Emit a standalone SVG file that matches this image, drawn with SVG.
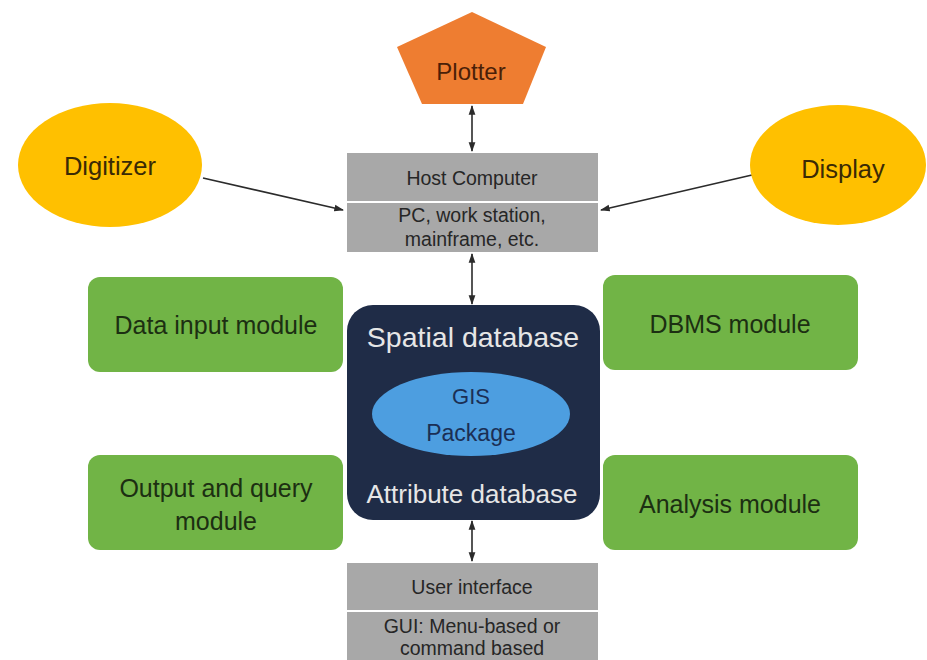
<svg xmlns="http://www.w3.org/2000/svg" width="927" height="660" viewBox="0 0 927 660">
  <defs>
    <marker id="arrow-end" viewBox="0 0 10 10" refX="9" refY="5" markerWidth="6" markerHeight="6" orient="auto">
      <path d="M0,1.5 L10,5 L0,8.5 z" fill="#2b2b2b"/>
    </marker>
    <marker id="arrow-start" viewBox="0 0 10 10" refX="1" refY="5" markerWidth="6" markerHeight="6" orient="auto">
      <path d="M10,1.5 L0,5 L10,8.5 z" fill="#2b2b2b"/>
    </marker>
  </defs>
  <style>
    text { font-family: "Liberation Sans", Arial, sans-serif; text-anchor: middle; }
    .grey { fill: #a8a8a8; }
    .grey-text { fill: #262626; font-size: 19.5px; }
    .module { fill: #71b446; }
    .module-text { fill: #1c2f12; font-size: 25px; }
    .oval { fill: #ffc000; }
    .oval-text { fill: #3a2a05; font-size: 25.5px; }
    .conn { stroke: #2b2b2b; stroke-width: 1.6; fill: none; }
  </style>

  <rect width="927" height="660" fill="#ffffff"/>

  <!-- connectors -->
  <g id="connectors">
    <line class="conn" x1="472" y1="106" x2="472" y2="151" marker-start="url(#arrow-start)" marker-end="url(#arrow-end)"/>
    <line class="conn" x1="472" y1="254" x2="472" y2="304" marker-start="url(#arrow-start)" marker-end="url(#arrow-end)"/>
    <line class="conn" x1="472" y1="521" x2="472" y2="561" marker-start="url(#arrow-start)" marker-end="url(#arrow-end)"/>
    <line class="conn" x1="203" y1="178" x2="343" y2="210" marker-end="url(#arrow-end)"/>
    <line class="conn" x1="752" y1="175" x2="601" y2="210" marker-end="url(#arrow-end)"/>
  </g>

  <!-- plotter -->
  <g id="plotter">
    <polygon points="472,12 546,47 523,104 422,104 397,47" fill="#ee7d31"/>
    <text x="471" y="80" font-size="24" fill="#4a1f08">Plotter</text>
  </g>

  <!-- digitizer -->
  <g id="digitizer">
    <ellipse class="oval" cx="110" cy="165" rx="92" ry="62"/>
    <text class="oval-text" x="110" y="175">Digitizer</text>
  </g>

  <!-- display -->
  <g id="display">
    <ellipse class="oval" cx="838" cy="165" rx="88" ry="60"/>
    <text class="oval-text" x="843" y="178">Display</text>
  </g>

  <!-- host computer -->
  <g id="host-computer">
    <rect class="grey" x="347" y="153" width="251" height="48"/>
    <rect class="grey" x="347" y="203" width="251" height="49"/>
    <text class="grey-text" x="472" y="185">Host Computer</text>
    <text class="grey-text" x="472" y="222">PC, work station,</text>
    <text class="grey-text" x="472" y="246">mainframe, etc.</text>
  </g>

  <!-- GIS core -->
  <g id="gis-core">
    <rect x="347" y="305" width="253" height="215" rx="26" fill="#1f2c47"/>
    <text x="473" y="347" font-size="28.5" fill="#e6e6e6">Spatial database</text>
    <ellipse cx="471" cy="414" rx="99" ry="42" fill="#4d9ee0"/>
    <text x="471" y="404" font-size="22" fill="#1b2f55">GIS</text>
    <text x="471" y="441" font-size="23" fill="#1b2f55">Package</text>
    <text x="472" y="503" font-size="26" fill="#e6e6e6">Attribute database</text>
  </g>

  <!-- modules -->
  <g id="data-input-module">
    <rect class="module" x="88" y="277" width="255" height="95" rx="12"/>
    <text class="module-text" x="216" y="334">Data input module</text>
  </g>
  <g id="dbms-module">
    <rect class="module" x="603" y="275" width="255" height="95" rx="12"/>
    <text class="module-text" x="730" y="333">DBMS module</text>
  </g>
  <g id="output-query-module">
    <rect class="module" x="88" y="455" width="255" height="95" rx="12"/>
    <text class="module-text" x="216" y="497">Output and query</text>
    <text class="module-text" x="216" y="530">module</text>
  </g>
  <g id="analysis-module">
    <rect class="module" x="603" y="455" width="255" height="95" rx="12"/>
    <text class="module-text" x="730" y="513">Analysis module</text>
  </g>

  <!-- user interface -->
  <g id="user-interface">
    <rect class="grey" x="347" y="563" width="251" height="47"/>
    <rect class="grey" x="347" y="612" width="251" height="48"/>
    <text class="grey-text" x="472" y="594">User interface</text>
    <text class="grey-text" x="472" y="633">GUI: Menu-based or</text>
    <text class="grey-text" x="472" y="655">command based</text>
  </g>
</svg>
